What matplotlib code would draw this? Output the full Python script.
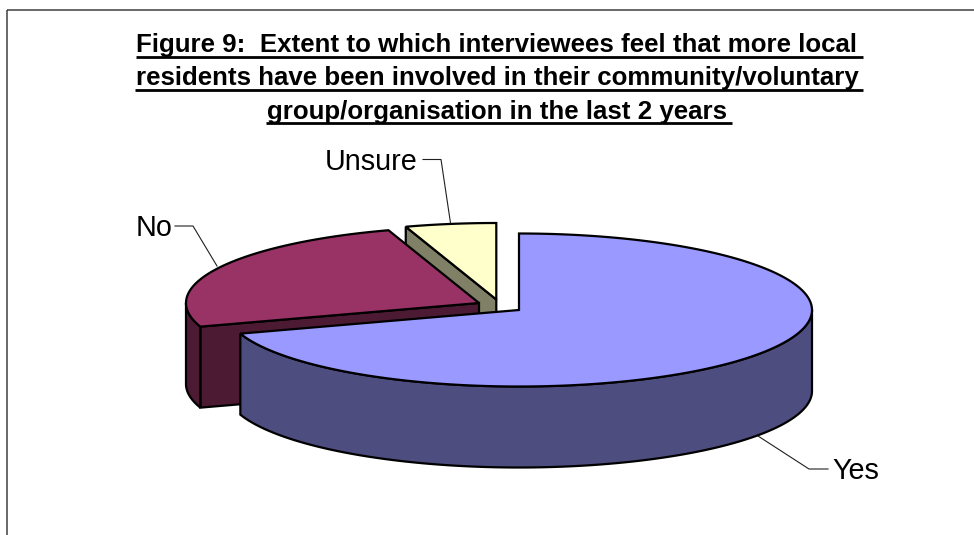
import numpy as np
import matplotlib
matplotlib.use("Agg")
import matplotlib.pyplot as plt
from matplotlib.patches import Polygon, Rectangle

plt.rcParams['font.family'] = ['Liberation Sans', 'DejaVu Sans']

# ----------------------------------------------------
# Data
# ----------------------------------------------------
labels = ["Yes", "No", "Unsure"]
values = [70, 25, 5]
top_colors = ["#9999FF", "#993366", "#FFFFCC"]
side_colors = ["#4D4D80", "#4D1A33", "#808066"]
title_lines = [
    "Figure 9:  Extent to which interviewees feel that more local",
    "residents have been involved in their community/voluntary",
    "group/organisation in the last 2 years",
]

# Layout (pixels, y going down)
centres = [(519, 310), (479, 303), (496.3, 299.5)]
RX, RY, DEPTH = 293, 76.5, 81
OUTLINE = 1.6

fig = plt.figure(figsize=(9.74, 5.35), dpi=100)
ax = fig.add_axes([0, 0, 1, 1])
ax.set_xlim(0, 974)
ax.set_ylim(535, 0)
ax.axis("off")

# Chart border, right and bottom sides are cut off by the image
ax.add_patch(Rectangle((7, 10), 1000, 600, fill=False, edgecolor="#404040", lw=1.1, clip_on=True))


def arc(cx, cy, a0, a1):
    # angles in degrees, clockwise from 12 o'clock
    t = np.radians(np.linspace(a0, a1, max(int(abs(a1 - a0)) * 2, 2)))
    return np.column_stack([cx + RX * np.sin(t), cy - RY * np.cos(t)])


def draw_slice(i, a0, a1):
    cx, cy = centres[i]
    kw = dict(facecolor=side_colors[i], edgecolor="black", lw=OUTLINE, joinstyle="miter")
    down = np.array([0, DEPTH])
    apex = np.array([cx, cy])

    # cut face on the far end of the slice, when it looks towards the viewer
    if a0 > 180:
        p = arc(cx, cy, a0, a0)[0]
        ax.add_patch(Polygon([apex, p, p + down, apex + down], closed=True, **kw))
    # rim of the slice, only the front half of the ellipse shows
    lo, hi = max(a0, 90), min(a1, 270)
    if lo < hi:
        rim = arc(cx, cy, lo, hi)
        ax.add_patch(Polygon(np.vstack([rim, rim[::-1] + down]), closed=True, **kw))
    # top face
    top = np.vstack([[apex], arc(cx, cy, a0, a1)])
    ax.add_patch(Polygon(top, closed=True, facecolor=top_colors[i], edgecolor="black",
                         lw=OUTLINE, joinstyle="miter"))


# slices run clockwise from 12 o'clock, drawn back to front
ends = np.cumsum(values) / np.sum(values) * 360
starts = np.concatenate([[0], ends[:-1]])
for i in [2, 1, 0]:
    draw_slice(i, starts[i], ends[i])

# Leader lines and labels
leaders = {
    "Yes": ([758, 809, 828], [436, 469, 469]),
    "No": ([217, 193, 175], [266, 226, 226]),
    "Unsure": ([450.5, 441, 423], [223, 159.5, 159.5]),
}
label_pos = {"Yes": (832, 479, "left"), "No": (172, 236, "right"), "Unsure": (417.5, 169.5, "right")}
for name in labels:
    xs, ys = leaders[name]
    ax.plot(xs, ys, color="#202020", lw=0.8)
    x, y, ha = label_pos[name]
    ax.text(x, y, name, fontsize=20.7, ha=ha, va="baseline", color="black")

# Title, underlined by hand (the underline runs on under a trailing space)
fig.canvas.draw()
renderer = fig.canvas.get_renderer()
for line, y in zip(title_lines, [52, 85.3, 118.6]):
    t = ax.text(497, y, line, fontsize=18.6, fontweight="bold", ha="center", va="baseline", color="black")
    bb = t.get_window_extent(renderer)
    ax.plot([bb.x0 - 1, bb.x1 + 5], [y + 4.7, y + 4.7], color="black", lw=2.0, solid_capstyle="butt")

fig.savefig("out.png", dpi=100)
